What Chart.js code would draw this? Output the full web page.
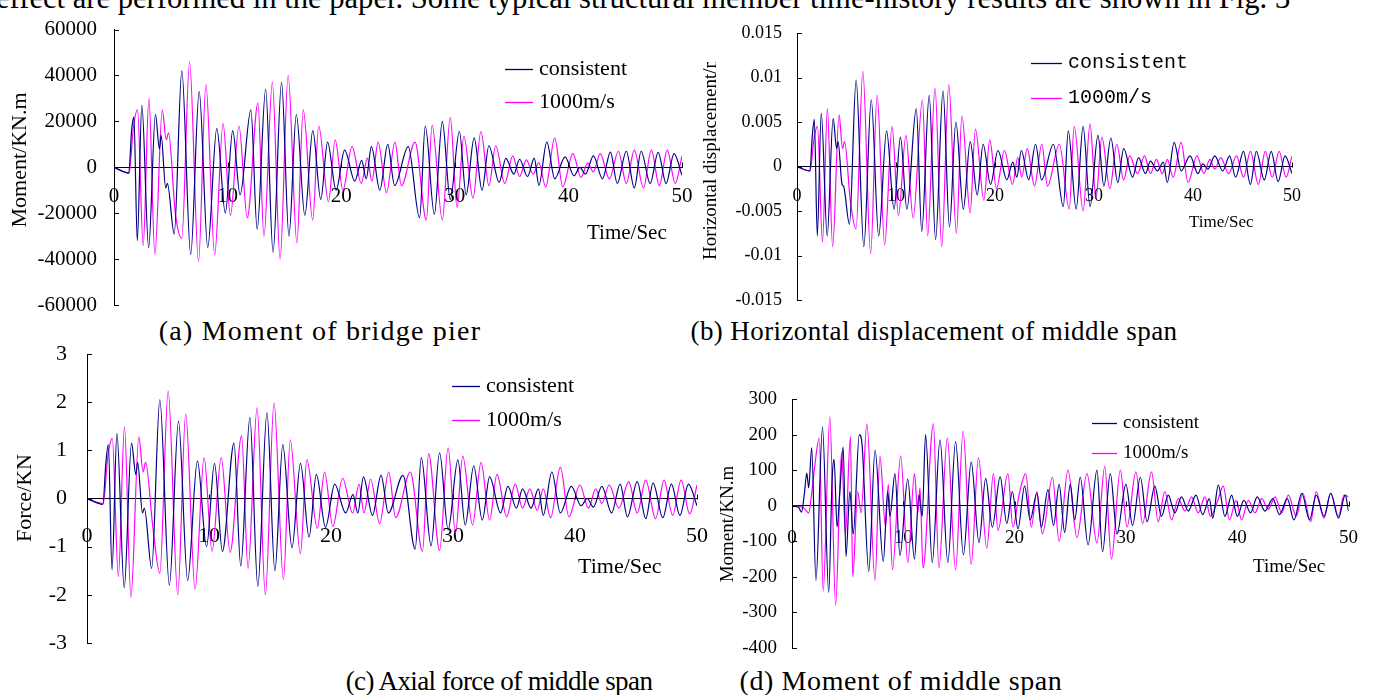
<!DOCTYPE html>
<html>
<head>
<meta charset="utf-8">
<script src="https://cdn.jsdelivr.net/npm/chart.js@4.4.1/dist/chart.umd.min.js"></script>
<style>
  html, body { margin: 0; padding: 0; background: #fff; overflow: hidden; }
  body { width: 1379px; height: 695px; position: relative; font-family: "Liberation Serif", "Times New Roman", serif; color: #000; }
  canvas { position: absolute; left: 0; top: 0; }
  .txt { position: absolute; white-space: nowrap; line-height: 1; }
  .cap { width: 600px; text-align: center; font-size: 27px; }
</style>
</head>
<body>
<div class="txt" style="left:-4px; top:-17px; font-size:30.6px;">effect are performed in the paper. Some typical structural member time-history results are shown in Fig. 3</div>
<div class="txt cap" style="left:20px; top:317px; font-size:28px; letter-spacing:1.2px;">(a) Moment of bridge pier</div>
<div class="txt cap" style="left:634px; top:318px; letter-spacing:0.4px;">(b) Horizontal displacement of middle span</div>
<div class="txt cap" style="left:199px; top:668px; letter-spacing:-0.6px;">(c) Axial force of middle span</div>
<div class="txt cap" style="left:601px; top:667px; font-size:28px; letter-spacing:0.6px;">(d) Moment of middle span</div>

<canvas id="chartA" width="1379" height="695"></canvas>
<canvas id="chartB" width="1379" height="695"></canvas>
<canvas id="chartC" width="1379" height="695"></canvas>
<canvas id="chartD" width="1379" height="695"></canvas>

<script>
// time of each turning point (s), shared by panels a, b, c
const timeConsistent = [
  0, 1.3, 1.55, 1.75, 2.05, 2.45, 3.05, 3.65, 4.0, 4.15,
  4.55, 4.7, 5.3, 5.97, 6.75, 7.5, 8.25, 9.05, 9.8, 10.45,
  11.1, 12.05, 12.6, 13.35, 14.0, 14.75, 15.4, 16.05, 16.8, 17.5,
  18.2, 18.8, 19.55, 20.3, 21.2, 21.8, 22.2, 22.66, 23.4, 24.1,
  24.7, 25.9, 26.9, 27.4, 28.2, 28.9, 29.6, 30.4, 31.0, 31.7,
  32.4, 33.0, 33.9, 34.5, 35.2, 35.7, 36.4, 37.0, 37.4, 38.1,
  38.8, 39.7, 40.5, 41.0, 41.5, 42.2, 43.0, 43.7, 44.3, 45.1,
  45.8, 46.4, 47.2, 47.9, 48.6, 49.3, 50.0,
];
const timeWave = [
  0, 1.33, 1.7, 2.07, 2.57, 3.07, 3.6, 4.25, 4.6, 4.8,
  5.4, 5.97, 6.65, 7.44, 8.09, 8.86, 9.6, 10.25, 11.0, 11.73,
  12.67, 13.2, 13.94, 14.62, 15.33, 16.1, 16.66, 17.49, 18.02, 18.88,
  19.47, 20.15, 20.95, 21.77, 22.3, 22.7, 23.25, 23.99, 24.73, 25.3,
  26.5, 27.5, 28.0, 28.9, 29.6, 30.2, 30.8, 31.6, 32.3, 33.0,
  33.6, 34.4, 35.1, 35.7, 36.3, 36.9, 37.4, 38.0, 38.8, 39.5,
  40.4, 41.1, 41.7, 42.2, 42.8, 43.6, 44.4, 45.1, 45.8, 46.6,
  47.3, 48.0, 48.7, 49.4, 50.0,
];

// (a) moment of bridge pier, KN.m
const pierConsistent = [
  0, -2500, 16000, 22000, -32000, 27000, -35000, 23000, 8000, 14000,
  -9000, -7000, -29000, 42000, -38000, 33000, -35000, 17000, -20000, 16000,
  -12000, 25000, -27000, 34000, -37000, 37000, -30000, 23000, -21000, 16000,
  -14000, 11000, -10000, 7500, -6000, 3000, -5000, 9000, -10000, 10000,
  -8000, 9000, -22000, 18000, -20500, 20000, -14000, 15600, -12000, 12800,
  -10000, 9400, -6500, 3900, -3000, 3500, -4000, 4000, -7900, 11000,
  -5000, 4500, -3700, 0, -3000, 5000, -5000, 6600, -7000, 7000,
  -9000, 7000, -7000, 6500, -7000, 6000, -3500,
];
const pierWave = [
  0, -2500, 17000, 25000, -34000, 30000, -38000, 25000, 12000, 15000,
  -20000, -31000, 46000, -41000, 36000, -38000, 19000, -21000, 18000, -22000,
  28000, -30000, 37000, -40000, 40000, -33000, 25000, -23000, 18000, -15000,
  12000, -10000, 9000, -7000, 4000, -6000, 11000, -11000, 11000, -8000,
  11000, -23000, 18400, -23000, 21800, -17500, 13500, -13400, 15600, -8000,
  9400, -7000, 5000, -4000, 3200, -3000, 2000, -8500, 12800, -8500,
  6000, -4400, 1800, -2000, 6000, -5000, 7000, -7000, 7500, -9000,
  7500, -8000, 7500, -7000, 5000,
];

// (b) horizontal displacement of middle span, m
const dispConsistent = [
  0, -0.0005, 0.0035, 0.0053, -0.0078, 0.006, -0.0078, 0.0054, 0.002, 0.0028,
  -0.002, -0.0022, -0.0065, 0.0097, -0.009, 0.0075, -0.0078, 0.004, -0.0048, 0.0033,
  -0.0048, 0.0065, -0.0073, 0.008, -0.0082, 0.0085, -0.0068, 0.005, -0.0048, 0.0028,
  -0.0032, 0.0025, -0.002, 0.0018, -0.0015, 0.0005, -0.0012, 0.0018, -0.0015, 0.0025,
  -0.0015, 0.0025, -0.0045, 0.004, -0.0048, 0.0045, -0.0045, 0.0035, -0.0022, 0.0032,
  -0.0018, 0.002, -0.0012, 0.001, -0.0008, 0.0006, -0.0005, 0.0005, -0.0018, 0.0027,
  -0.0005, 0.0012, -0.0008, 0.0003, -0.0003, 0.0012, -0.0005, 0.0012, -0.0012, 0.0017,
  -0.002, 0.0017, -0.0015, 0.0017, -0.0017, 0.0012, -0.0008,
];
const dispWave = [
  0, -0.0005, 0.003, 0.0045, -0.0085, 0.0065, -0.009, 0.0058, 0.002, 0.0028,
  -0.004, -0.007, 0.0107, -0.0098, 0.008, -0.0088, 0.0045, -0.0055, 0.0035, -0.0058,
  0.0075, -0.0078, 0.0088, -0.009, 0.0092, -0.0075, 0.0057, -0.0052, 0.0042, -0.0038,
  0.003, -0.0025, 0.0018, -0.002, 0.001, -0.0012, 0.002, -0.0022, 0.0025, -0.0022,
  0.0025, -0.0048, 0.0045, -0.005, 0.0048, -0.0035, 0.0033, -0.0025, 0.0025, -0.0015,
  0.0012, -0.0008, 0.0012, -0.0008, 0.0008, -0.0008, 0.0008, -0.0012, 0.0027, -0.0018,
  0.0012, -0.0008, 0.0008, -0.0003, 0.001, -0.0008, 0.0012, -0.0012, 0.0017, -0.002,
  0.0017, -0.0012, 0.0017, -0.0012, 0.0012,
];

// (c) axial force of middle span, KN
const axialConsistent = [
  0, -0.12, 0.75, 1.12, -1.48, 1.35, -1.85, 1.15, 0.5, 0.75,
  -0.3, -0.2, -1.45, 2.05, -1.8, 1.6, -1.7, 0.78, -1.0, 0.73,
  -1.1, 1.15, -1.4, 1.68, -1.82, 1.78, -1.5, 1.12, -1.02, 0.73,
  -0.8, 0.5, -0.6, 0.3, -0.3, 0.08, -0.3, 0.45, -0.35, 0.48,
  -0.3, 0.48, -1.05, 0.85, -0.98, 0.95, -0.65, 0.8, -0.55, 0.68,
  -0.45, 0.45, -0.3, 0.25, -0.2, 0.2, -0.2, 0.2, -0.35, 0.55,
  -0.3, 0.25, -0.15, 0.0, -0.18, 0.25, -0.3, 0.3, -0.38, 0.35,
  -0.42, 0.32, -0.4, 0.3, -0.35, 0.3, -0.15,
];
const axialWave = [
  0, -0.1, 0.85, 1.25, -1.62, 1.48, -2.05, 1.28, 0.55, 0.75,
  -0.6, -1.55, 2.23, -2.0, 1.75, -1.88, 0.85, -1.1, 0.85, -1.12,
  1.3, -1.45, 1.88, -2.0, 1.98, -1.68, 1.22, -1.15, 0.8, -0.62,
  0.55, -0.58, 0.42, -0.3, 0.3, -0.3, 0.4, -0.52, 0.55, -0.4,
  0.55, -1.1, 0.93, -1.08, 1.05, -0.72, 0.88, -0.55, 0.75, -0.45,
  0.5, -0.38, 0.3, -0.2, 0.2, -0.25, 0.2, -0.4, 0.65, -0.38,
  0.28, -0.2, 0.2, -0.1, 0.28, -0.2, 0.35, -0.3, 0.38, -0.42,
  0.38, -0.35, 0.38, -0.32, 0.28,
];

// (d) moment of middle span, KN.m
const timeSpanConsistent = [
  0, 0.6, 0.85, 1.1, 1.33, 1.5, 1.77, 2.15, 2.74, 3.3,
  3.6, 3.78, 4.05, 4.3, 4.6, 4.85, 5.2, 5.5, 6.05, 6.3,
  6.9, 7.46, 8.2, 8.6, 8.8, 9.25, 9.7, 10.4, 11.0, 11.4,
  11.7, 12.0, 12.6, 13.3, 14.0, 14.7, 15.4, 16.1, 16.8, 17.4,
  18.0, 18.7, 19.3, 19.8, 20.3, 20.9, 21.4, 22.0, 22.4, 23.0,
  23.5, 24.0, 24.5, 25.0, 25.4, 25.9, 26.6, 27.4, 27.9, 28.6,
  29.2, 30.0, 30.6, 31.3, 31.9, 32.6, 33.2, 33.8, 34.4, 35.0,
  35.6, 36.3, 36.9, 37.5, 37.8, 38.3, 38.9, 39.5, 40.0, 40.6,
  41.2, 41.8, 42.5, 43.2, 43.8, 44.5, 45.1, 45.8, 46.5, 47.1,
  47.8, 48.4, 49.1, 49.7, 50.0,
];
const spanConsistent = [
  0, -5, -18, 30, 92, 50, 163, -210, 221, -244,
  70, 130, -60, 40, 165, -143, 40, -80, 200, 170,
  -185, 156, -157, 40, -30, 90, -140, 75, -150, 30,
  -30, 200, -160, 185, -160, 180, -138, 123, -104, 77,
  -60, 81, -50, 40, -65, 55, -40, 35, -60, 45,
  -55, 60, -75, 60, -40, 80, -110, 100, -130, 90,
  -80, 60, -55, 80, -45, 55, -30, 30, -20, 25,
  -15, 30, -25, 20, -35, 58, -30, 30, -30, 15,
  -20, 25, -15, 20, -25, 20, -40, 35, -40, 30,
  -30, 35, -35, 30, -15,
];
const timeSpanWave = [
  0, 1.0, 1.5, 1.75, 2.0, 2.45, 2.8, 3.4, 3.92, 4.45,
  4.8, 5.25, 5.46, 5.9, 6.2, 6.73, 7.46, 7.9, 8.4, 8.65,
  9.03, 9.76, 10.41, 11.0, 11.3, 11.5, 11.77, 12.7, 13.2, 13.95,
  14.7, 15.37, 16.1, 16.75, 17.5, 18.1, 18.5, 19.4, 19.85, 20.4,
  21.0, 21.5, 22.0, 22.5, 23.4, 24.0, 24.8, 25.6, 26.5, 27.4,
  28.1, 28.7, 29.5, 30.1, 30.9, 31.5, 32.3, 32.9, 33.5, 34.1,
  34.7, 35.3, 35.9, 36.5, 37.1, 37.6, 38.2, 38.75, 39.3, 39.9,
  40.4, 41.0, 41.6, 42.2, 42.8, 43.4, 44.0, 44.6, 45.3, 45.9,
  46.6, 47.1, 47.8, 48.4, 49.1, 49.6, 50.0,
];
const spanWave = [
  0, -5, -20, 30, 100, 190, -240, 250, -280, 150,
  -80, 195, -200, 40, -20, 230, -210, 140, -60, 60,
  -180, 140, -160, 90, -20, 50, -175, 230, -175, 190,
  -180, 210, -165, 135, -120, 90, -70, 90, -60, 30,
  90, -60, 40, -80, 80, -100, 100, -90, 90, -105,
  110, -150, 100, -60, 95, -50, 95, -45, 40, -40,
  20, -15, 25, -20, 25, -30, 10, 55, -40, 15,
  -40, 15, -20, 20, -10, 25, -20, 30, -30, 35,
  -45, 40, -35, 35, -30, 30, 25,
];

const SERIF = '"Liberation Serif", "Times New Roman", serif';
const MONO = '"Liberation Mono", "Courier New", monospace';
const BLUE = "#000080";
const PINK = "#ff00ff";

function points(times, values) {
  return times.map((t, i) => ({ x: t, y: values[i] }));
}

// extra marks: inward ticks, legend, axis titles
const decor = {
  id: "decor",
  afterDraw(chart, args, o) {
    const { ctx, chartArea } = chart;
    const xs = chart.scales.x;
    const ys = chart.scales.y;
    const zero = Math.round(ys.getPixelForValue(0)) + 0.5;
    ctx.save();
    ctx.strokeStyle = "#000";
    ctx.lineWidth = 1;
    ctx.beginPath();
    ys.ticks.forEach((t) => {
      const p = Math.round(ys.getPixelForValue(t.value)) + 0.5;
      ctx.moveTo(chartArea.left, p);
      ctx.lineTo(chartArea.left + 5, p);
    });
    xs.ticks.forEach((t) => {
      const p = Math.round(xs.getPixelForValue(t.value)) + 0.5;
      ctx.moveTo(p, zero);
      ctx.lineTo(p, zero - 5);
    });
    ctx.stroke();

    ctx.fillStyle = "#000";
    ctx.textAlign = "left";
    ctx.textBaseline = "middle";
    ctx.font = o.legend.font;
    chart.data.datasets.forEach((ds, i) => {
      const y = o.legend.rows[i];
      ctx.strokeStyle = ds.borderColor;
      ctx.lineWidth = 1.3;
      ctx.beginPath();
      ctx.moveTo(o.legend.x, y + 0.5);
      ctx.lineTo(o.legend.x + o.legend.len, y + 0.5);
      ctx.stroke();
      ctx.fillText(ds.label, o.legend.x + o.legend.len + 6, y);
    });

    ctx.font = o.xTitle.font;
    ctx.fillText("Time/Sec", o.xTitle.x, o.xTitle.y);

    ctx.save();
    if (o.yTitle.clipTop !== undefined) {
      ctx.beginPath();
      ctx.rect(0, o.yTitle.clipTop, chart.width, chart.height);
      ctx.clip();
    }
    ctx.translate(o.yTitle.x, o.yTitle.y);
    ctx.rotate(-Math.PI / 2);
    ctx.font = o.yTitle.font;
    ctx.textAlign = o.yTitle.align || "center";
    ctx.fillText(o.yTitle.text, 0, 0);
    ctx.restore();
    ctx.restore();
  },
};

function makePanel(id, p) {
  const axisW = p.area.left;
  return new Chart(document.getElementById(id), {
    type: "line",
    data: {
      datasets: [
        { label: "consistent", data: points(p.t1, p.v1), borderColor: BLUE, borderWidth: 1.2, pointRadius: 0, cubicInterpolationMode: "monotone" },
        { label: "1000m/s", data: points(p.t2, p.v2), borderColor: PINK, borderWidth: 1.2, pointRadius: 0, cubicInterpolationMode: "monotone" },
      ],
    },
    options: {
      responsive: false,
      animation: false,
      events: [],
      layout: {
        padding: {
          left: 0,
          right: 1379 - p.area.right,
          top: p.area.top,
          bottom: 695 - p.area.bottom,
        },
      },
      plugins: {
        legend: { display: false },
        tooltip: { enabled: false },
        decor: p.decor,
      },
      scales: {
        x: {
          type: "linear",
          min: 0,
          max: 50,
          position: { y: 0 },
          grid: { display: false, drawTicks: false },
          border: { display: true, color: "#000", width: 1 },
          ticks: {
            stepSize: 10,
            padding: p.xPad,
            color: "#000",
            maxRotation: 0,
            autoSkip: false,
            font: { family: SERIF, size: p.tickSize },
            callback: (v) => String(v),
          },
        },
        y: {
          type: "linear",
          min: p.yMin,
          max: p.yMax,
          afterFit: (s) => { s.width = axisW; },
          grid: { display: false, drawTicks: false },
          border: { display: true, color: "#000", width: 1 },
          ticks: {
            stepSize: p.yStep,
            padding: p.yPad,
            color: "#000",
            font: { family: SERIF, size: p.tickSize },
            callback: (v) => String(parseFloat(v.toFixed(4))),
          },
        },
      },
    },
    plugins: [decor],
  });
}

makePanel("chartA", {
  t1: timeConsistent, v1: pierConsistent, t2: timeWave, v2: pierWave,
  area: { left: 114, right: 682, top: 18, bottom: 305 },
  yMin: -60000, yMax: 60000, yStep: 20000,
  tickSize: 21, xPad: 17, yPad: 17,
  decor: {
    legend: { x: 505, len: 28, rows: [69, 102], font: "22px " + SERIF },
    xTitle: { x: 587, y: 233, font: "21px " + SERIF },
    yTitle: { x: 20, y: 160, text: "Moment/KN.m", font: "22px " + SERIF },
  },
});

makePanel("chartB", {
  t1: timeConsistent, v1: dispConsistent, t2: timeWave, v2: dispWave,
  area: { left: 797, right: 1292, top: 33, bottom: 300 },
  yMin: -0.015, yMax: 0.015, yStep: 0.005,
  tickSize: 18, xPad: 19, yPad: 15,
  decor: {
    legend: { x: 1031, len: 31, rows: [63, 98], font: "20px " + MONO },
    xTitle: { x: 1189, y: 223, font: "17px " + SERIF },
    yTitle: { x: 711, y: 260, text: "Horizontal displacement/m", align: "left", clipTop: 62, font: "19px " + SERIF },
  },
});

makePanel("chartC", {
  t1: timeConsistent, v1: axialConsistent, t2: timeWave, v2: axialWave,
  area: { left: 87, right: 697, top: 354, bottom: 643 },
  yMin: -3, yMax: 3, yStep: 1,
  tickSize: 22, xPad: 25, yPad: 20,
  decor: {
    legend: { x: 452, len: 28, rows: [386, 420], font: "22px " + SERIF },
    xTitle: { x: 578, y: 567, font: "22px " + SERIF },
    yTitle: { x: 25, y: 498, text: "Force/KN", font: "22px " + SERIF },
  },
});

makePanel("chartD", {
  t1: timeSpanConsistent, v1: spanConsistent, t2: timeSpanWave, v2: spanWave,
  area: { left: 792, right: 1355, top: 399, bottom: 648 },
  yMin: -400, yMax: 300, yStep: 100,
  tickSize: 19, xPad: 21, yPad: 15,
  decor: {
    legend: { x: 1092, len: 25, rows: [423, 453], font: "19px " + SERIF },
    xTitle: { x: 1253, y: 567, font: "19px " + SERIF },
    yTitle: { x: 728, y: 524, text: "Moment/KN.m", font: "19px " + SERIF },
  },
});
</script>
</body>
</html>
